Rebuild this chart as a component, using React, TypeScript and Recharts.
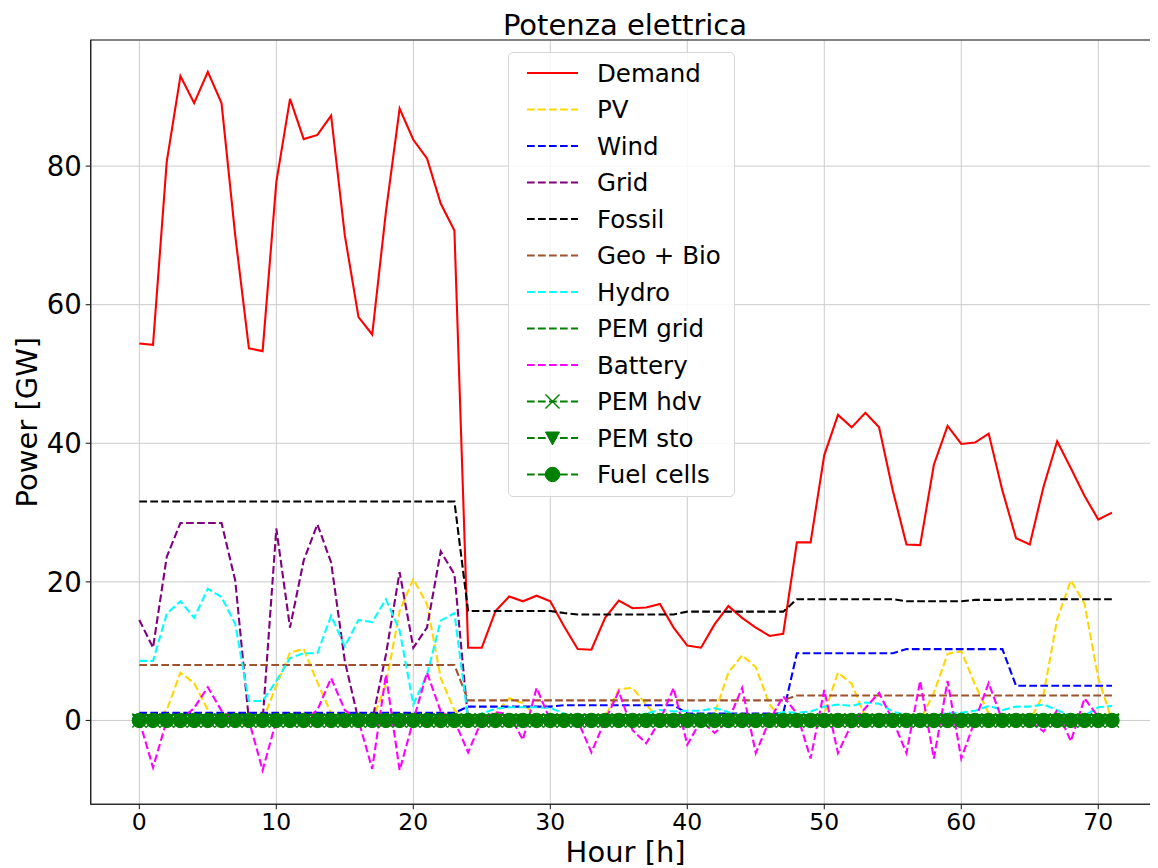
import React from 'react';
import { LineChart, Line, XAxis, YAxis, CartesianGrid, ReferenceArea, Legend, Label } from 'recharts';

const hours: number[] = Array.from({ length: 72 }, (_, i) => i);

const demand = [
  54.4, 54.2, 80.6, 93.0, 89.1, 93.6, 89.1, 70.0, 53.7, 53.3, 77.7, 89.7, 83.9, 84.5, 87.3, 70.0, 58.2, 55.7, 73.4, 88.3, 83.8, 81.1, 74.6, 70.7,
  10.5, 10.5, 15.8, 17.9, 17.2, 18.0, 17.2, 13.6, 10.3, 10.2, 14.8, 17.3, 16.2, 16.3, 16.8, 13.4, 10.8, 10.5, 13.9, 16.5, 14.8, 13.4, 12.2, 12.5,
  25.7, 25.7, 38.3, 44.1, 42.3, 44.4, 42.3, 33.2, 25.4, 25.3, 36.9, 42.5, 39.9, 40.1, 41.4, 33.2, 26.3, 25.4, 33.7, 40.3, 36.4, 32.4, 29.0, 30.0,
];
const pv = [
  0, 0, 1.5, 6.9, 5.4, 1.5, 0, 0, 0, 0, 5.0, 9.8, 10.3, 5.5, 1.0, 0, 0, 0, 5.2, 15.8, 20.4, 16.8, 6.1, 1.5,
  0, 0, 1.0, 3.2, 2.5, 0.5, 0, 0, 0, 0, 0.5, 4.5, 4.7, 2.3, 0, 0, 0, 0, 1.0, 6.9, 9.4, 7.7, 2.3, 0,
  0, 0, 1.0, 6.9, 5.3, 0.5, 0, 0, 0, 0, 4.0, 9.6, 10.0, 5.2, 1.0, 0, 0, 0, 3.7, 14.6, 20.2, 16.8, 6.1, 0,
];
const wind = [
  1.1, 1.1, 1.1, 1.1, 1.1, 1.1, 1.1, 1.1, 1.1, 1.1, 1.1, 1.1, 1.1, 1.1, 1.1, 1.1, 1.1, 1.1, 1.1, 1.1, 1.1, 1.1, 1.1, 1.1,
  2.0, 2.0, 2.0, 2.0, 2.0, 2.0, 2.0, 2.2, 2.2, 2.2, 2.2, 2.2, 2.2, 2.2, 2.2, 2.2, 1.0, 1.0, 1.0, 1.0, 1.0, 1.0, 1.0, 1.0,
  9.7, 9.7, 9.7, 9.7, 9.7, 9.7, 9.7, 9.7, 10.3, 10.3, 10.3, 10.3, 10.3, 10.3, 10.3, 10.3, 5.0, 5.0, 5.0, 5.0, 5.0, 5.0, 5.0, 5.0,
];
const grid = [
  14.5, 10.5, 23.6, 28.5, 28.5, 28.5, 28.5, 20.2, 0, 0, 27.7, 13.4, 23.1, 28.3, 22.8, 8.6, 0, 0, 9.5, 21.4, 10.5, 13.4, 24.4, 21.1,
  0, 0, 0, 0, 0, 0, 0, 0, 0, 0, 0, 0, 0, 0, 0, 0, 0, 0, 0, 0, 0, 0, 0, 0,
  0, 0, 0, 0, 0, 0, 0, 0, 0, 0, 0, 0, 0, 0, 0, 0, 0, 0, 0, 0, 0, 0, 0, 0,
];
const fossil = [
  31.6, 31.6, 31.6, 31.6, 31.6, 31.6, 31.6, 31.6, 31.6, 31.6, 31.6, 31.6, 31.6, 31.6, 31.6, 31.6, 31.6, 31.6, 31.6, 31.6, 31.6, 31.6, 31.6, 31.6,
  15.8, 15.8, 15.8, 15.8, 15.8, 15.8, 15.8, 15.5, 15.3, 15.3, 15.3, 15.3, 15.3, 15.3, 15.3, 15.3, 15.7, 15.7, 15.7, 15.7, 15.7, 15.7, 15.7, 15.7,
  17.5, 17.5, 17.5, 17.5, 17.5, 17.5, 17.5, 17.5, 17.2, 17.2, 17.2, 17.2, 17.2, 17.4, 17.4, 17.4, 17.5, 17.5, 17.5, 17.5, 17.5, 17.5, 17.5, 17.5,
];
const geoBio = [
  8.0, 8.0, 8.0, 8.0, 8.0, 8.0, 8.0, 8.0, 8.0, 8.0, 8.0, 8.0, 8.0, 8.0, 8.0, 8.0, 8.0, 8.0, 8.0, 8.0, 8.0, 8.0, 8.0, 8.0,
  2.9, 2.9, 2.9, 2.9, 2.9, 2.9, 2.9, 2.9, 2.9, 2.9, 2.9, 2.9, 2.9, 2.9, 2.9, 2.9, 2.9, 2.9, 2.9, 2.9, 2.9, 2.9, 2.9, 2.9,
  3.6, 3.6, 3.6, 3.6, 3.6, 3.6, 3.6, 3.6, 3.6, 3.6, 3.6, 3.6, 3.6, 3.6, 3.6, 3.6, 3.6, 3.6, 3.6, 3.6, 3.6, 3.6, 3.6, 3.6,
];
const hydro = [
  8.6, 8.6, 15.4, 17.2, 14.8, 19.0, 17.8, 13.9, 2.8, 2.8, 5.7, 9.0, 9.7, 9.7, 15.1, 10.7, 14.5, 14.2, 17.5, 13.0, 2.3, 6.6, 14.4, 15.5,
  0.2, 1.0, 1.7, 1.9, 1.9, 1.9, 1.8, 1.0, 0.3, 0.2, 0.2, 0.4, 0.5, 1.0, 1.5, 1.3, 1.4, 1.4, 1.8, 1.2, 0.6, 0.5, 0.6, 1.2,
  1.1, 1.3, 2.0, 2.3, 2.1, 2.6, 2.4, 1.3, 0.7, 0.7, 0.6, 1.1, 1.1, 1.4, 2.1, 1.5, 2.0, 2.0, 2.3, 1.5, 0.6, 0.7, 1.9, 2.1,
];
const battery = [
  0, -6.8, 0, 0, 1.8, 4.8, 1.4, 0, 0, -7.2, 0, 0, 0, 1.5, 6.1, 1.5, 0, -7.0, 6.6, -7.2, 0, 6.9, 1.3, 0,
  -4.6, 0, 1.2, 0.9, -2.8, 4.7, 0, 0, 0, -4.6, 0, 4.2, -1.4, -3.3, 0, 4.7, -3.5, 0, -1.8, 0, 4.7, -4.7, 0, 3.5,
  1.0, -5.5, 4.4, -4.7, -0.5, 1.8, 4.0, 0, -4.7, 5.7, -5.5, 5.7, -5.5, 0, 5.4, 0, 0, 0, -1.6, 1.5, -3.0, 3.2, 0.5, 0,
];
const pemGrid: number[] = hours.map(() => 0);
const pemHdv: number[] = hours.map(() => 0);
const pemSto: number[] = hours.map(() => 0);
const fuelCells: number[] = hours.map(() => 0);

const xTicks = [0, 10, 20, 30, 40, 50, 60, 70];
const yTicks = [0, 20, 40, 60, 80];

const data = hours.map((h, i) => ({
  h,
  demand: demand[i],
  pv: pv[i],
  wind: wind[i],
  grid: grid[i],
  fossil: fossil[i],
  geoBio: geoBio[i],
  hydro: hydro[i],
  pemGrid: pemGrid[i],
  battery: battery[i],
  pemHdv: pemHdv[i],
  pemSto: pemSto[i],
  fuelCells: fuelCells[i],
}));

const FONT = '"DejaVu Sans", Verdana, sans-serif';
const GREEN = '#008000';
const DASH = '7.7 3.3';

type Marker = 'none' | 'x' | 'v' | 'o';
const seriesDefs: { key: string; name: string; color: string; dashed: boolean; marker: Marker }[] = [
  { key: 'demand', name: 'Demand', color: '#ff0000', dashed: false, marker: 'none' },
  { key: 'pv', name: 'PV', color: '#ffd700', dashed: true, marker: 'none' },
  { key: 'wind', name: 'Wind', color: '#0000ff', dashed: true, marker: 'none' },
  { key: 'grid', name: 'Grid', color: '#800080', dashed: true, marker: 'none' },
  { key: 'fossil', name: 'Fossil', color: '#000000', dashed: true, marker: 'none' },
  { key: 'geoBio', name: 'Geo + Bio', color: '#a0522d', dashed: true, marker: 'none' },
  { key: 'hydro', name: 'Hydro', color: '#00ffff', dashed: true, marker: 'none' },
  { key: 'pemGrid', name: 'PEM grid', color: GREEN, dashed: true, marker: 'none' },
  { key: 'battery', name: 'Battery', color: '#ff00ff', dashed: true, marker: 'none' },
  { key: 'pemHdv', name: 'PEM hdv', color: GREEN, dashed: true, marker: 'x' },
  { key: 'pemSto', name: 'PEM sto', color: GREEN, dashed: true, marker: 'v' },
  { key: 'fuelCells', name: 'Fuel cells', color: GREEN, dashed: true, marker: 'o' },
];

function drawMarker(m: Marker, cx: number, cy: number, color: string, key?: string) {
  if (m === 'o') return <circle key={key} cx={cx} cy={cy} r={7.2} fill={color} stroke={color} strokeWidth={1} />;
  if (m === 'v')
    return (
      <polygon
        key={key}
        points={`${cx - 7},${cy - 6} ${cx + 7},${cy - 6} ${cx},${cy + 7}`}
        fill={color}
        stroke={color}
        strokeWidth={1}
      />
    );
  if (m === 'x')
    return (
      <g key={key} stroke={color} strokeWidth={1.4}>
        <line x1={cx - 7} y1={cy - 7} x2={cx + 7} y2={cy + 7} />
        <line x1={cx - 7} y1={cy + 7} x2={cx + 7} y2={cy - 7} />
      </g>
    );
  return <g key={key} />;
}

const LegendBox = () => (
  <div
    style={{
      width: 227,
      height: 445,
      boxSizing: 'border-box',
      border: '1px solid #d6d6d6',
      borderRadius: 5,
      background: 'rgba(255,255,255,0.85)',
    }}
  >
    <svg width={225} height={443} style={{ display: 'block' }}>
      {seriesDefs.map((s, i) => {
        const cy = 20 + i * 36.5;
        return (
          <g key={s.key}>
            <line
              x1={18}
              x2={69}
              y1={cy}
              y2={cy}
              stroke={s.color}
              strokeWidth={2}
              strokeDasharray={s.dashed ? DASH : undefined}
            />
            {drawMarker(s.marker, 43.5, cy, s.color)}
            <text x={88} y={cy} dy="0.36em" fontFamily={FONT} fontSize={24.5} fill="#000">
              {s.name}
            </text>
          </g>
        );
      })}
    </svg>
  </div>
);

const YLabel = (props: any) => {
  const vb = props.viewBox || {};
  const cy = (vb.y ?? 32) + (vb.height ?? 764) / 2;
  const x = 29;
  return (
    <text
      x={x}
      y={cy}
      transform={`rotate(-90, ${x}, ${cy})`}
      textAnchor="middle"
      fontFamily={FONT}
      fontSize={29}
      fill="#000"
    >
      Power [GW]
    </text>
  );
};

const XLabel = (props: any) => {
  const vb = props.viewBox || {};
  const cx = (vb.x ?? 83) + (vb.width ?? 1070) / 2;
  return (
    <text x={cx} y={853.7} textAnchor="middle" fontFamily={FONT} fontSize={29} fill="#000">
      Hour [h]
    </text>
  );
};

export default function App() {
  return (
    <div style={{ position: 'relative', width: 1150, height: 860, overflow: 'hidden', fontFamily: FONT }}>
      <div
        style={{
          position: 'absolute',
          top: 1,
          left: 417,
          width: 400,
          textAlign: 'center',
          fontSize: 29,
          lineHeight: '32px',
          color: '#000',
          zIndex: 2,
          whiteSpace: 'nowrap',
        }}
      >
        Potenza elettrica
      </div>
      <LineChart
        width={1160}
        height={860}
        data={data}
        margin={{ top: 32, right: 7.4, bottom: 3.7, left: 0 }}
        style={{ fontFamily: FONT }}
      >
        <CartesianGrid stroke="#cbcbcb" strokeWidth={1} vertical horizontal />
        <XAxis
          dataKey="h"
          type="number"
          domain={[-3.55, 74.55]}
          ticks={xTicks}
          allowDataOverflow
          interval={0}
          height={60}
          tickSize={5}
          tickMargin={4}
          tick={{ fontSize: 23.5, fill: '#000', fontFamily: FONT }}
          axisLine={{ stroke: '#222', strokeWidth: 1.1 }}
          tickLine={{ stroke: '#222', strokeWidth: 1.1 }}
        >
          <Label content={XLabel} />
        </XAxis>
        <YAxis
          type="number"
          domain={[-12.1, 98.2]}
          ticks={yTicks}
          allowDataOverflow
          interval={0}
          width={82.7}
          tickSize={5}
          tickMargin={4}
          tick={{ fontSize: 27.5, fill: '#000', fontFamily: FONT }}
          axisLine={{ stroke: '#222', strokeWidth: 1.1 }}
          tickLine={{ stroke: '#222', strokeWidth: 1.1 }}
        >
          <Label content={YLabel} />
        </YAxis>
        <ReferenceArea
          x1={-3.55}
          x2={74.55}
          y1={-12.1}
          y2={98.2}
          fill="none"
          fillOpacity={0}
          stroke="#222"
          strokeWidth={1.1}
          ifOverflow="visible"
        />
        {seriesDefs.map((s) => (
          <Line
            key={s.key}
            dataKey={s.key}
            name={s.name}
            type="linear"
            stroke={s.color}
            strokeWidth={2.1}
            strokeDasharray={s.dashed ? DASH : undefined}
            isAnimationActive={false}
            legendType="none"
            activeDot={false}
            dot={
              s.marker === 'none'
                ? false
                : (p: any) => drawMarker(s.marker, p.cx, p.cy, s.color, `${s.key}-${p.index}`)
            }
          />
        ))}
        <Legend
          layout="vertical"
          align="center"
          verticalAlign="middle"
          wrapperStyle={{ top: 44, left: 500, width: 227, height: 445 }}
          content={() => <LegendBox />}
        />
      </LineChart>
    </div>
  );
}
